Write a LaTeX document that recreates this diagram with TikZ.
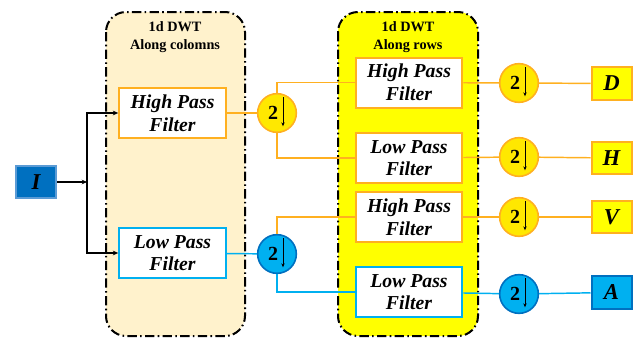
\documentclass[tikz,border=0pt]{standalone}
\usepackage{fontspec}
\setmainfont{Liberation Serif}
\usetikzlibrary{arrows.meta,positioning,calc}
\definecolor{beige}{HTML}{FFF2CC}
\definecolor{yel}{HTML}{FFFF00}
\definecolor{yelc}{HTML}{FFE800}
\definecolor{orng}{HTML}{FFB020}
\definecolor{skyb}{HTML}{00B0F0}
\definecolor{deepb}{HTML}{0070C0}
\definecolor{lightb}{HTML}{5B9BD5}

\begin{document}
\begin{tikzpicture}[x=0.75pt, y=-0.75pt,
  panel/.style={draw=black, line width=1.5pt, rounded corners=15pt, dash pattern=on 7pt off 2.5pt on 1.2pt off 2.5pt},
  ttl/.style={font=\fontsize{10.7}{13.5}\selectfont\bfseries, align=center},
  filt/.style={draw=orng, fill=white, line width=1.5pt, minimum width=80pt, minimum height=37.5pt, align=center, inner sep=1pt, font=\fontsize{14.8}{17}\selectfont\bfseries\itshape},
  lfilt/.style={filt, draw=skyb},
  dsy/.style={circle, draw=orng, fill=yelc, line width=1.2pt, minimum size=29pt, inner sep=0pt},
  dsb/.style={circle, draw=deepb, fill=skyb, line width=1.2pt, minimum size=29pt, inner sep=0pt},
  outy/.style={draw=orng, fill=yel, line width=1.5pt, minimum width=30pt, minimum height=24.5pt, inner sep=0pt, font=\fontsize{17}{17}\selectfont\bfseries\itshape},
  outb/.style={outy, draw=deepb, fill=skyb},
  ow/.style={orng, line width=1.1pt},
  bw/.style={skyb, line width=1.1pt},
  arr/.style={-{Stealth[length=4pt, width=3.5pt]}, black, line width=1pt}]
  \useasboundingbox (0,0) rectangle (636,339);
  % containers
  \draw[panel, fill=beige] (106,12) rectangle (245,336);
  \draw[panel, fill=yel] (338,12) rectangle (478,336);
  \node[ttl] (coltitle) at (175,37) {1d DWT\\Along colomns};
  \node[ttl] (rowtitle) at (408,37) {1d DWT\\Along rows};
  % input
  \node[draw=lightb, fill=deepb, line width=1.5pt, minimum width=30pt, minimum height=24.5pt, inner sep=0pt, font=\fontsize{17}{17}\selectfont\bfseries\itshape] (img) at (36,182) {I};
  \coordinate (split) at (87,182);
  % column filters
  \node[filt] (hpc) at (172.5,113) {High Pass\\Filter};
  \node[lfilt] (lpc) at (172.5,253) {Low Pass\\Filter};
  \node[dsy] (dc1) at (277,113) {};
  \node[dsb] (dc2) at (277,254) {};
  % row filters
  \node[filt] (hpr1) at (409,82.5) {High Pass\\Filter};
  \node[filt] (lpr1) at (409,158) {Low Pass\\Filter};
  \node[filt] (hpr2) at (409,217) {High Pass\\Filter};
  \node[lfilt] (lpr2) at (409,292) {Low Pass\\Filter};
  \node[dsy] (dr1) at (519,83) {};
  \node[dsy] (dr2) at (519,157) {};
  \node[dsy] (dr3) at (519,217) {};
  \node[dsb] (dr4) at (519,294) {};
  % outputs
  \node[outy] (outd) at (611.5,83.5) {D};
  \node[outy] (outh) at (611.5,158) {H};
  \node[outy] (outv) at (611.5,217) {V};
  \node[outb] (outa) at (611.5,292.5) {A};
  % downsampling labels
  \foreach \c in {dc1,dc2,dr1,dr2,dr3,dr4}{
    \node[font=\fontsize{15}{15}\selectfont\bfseries] at ([xshift=-3pt]\c.center) {2};
    \draw[-{Stealth[length=3pt, width=2.5pt]}, black, line width=0.5pt] ([xshift=4.5pt, yshift=12pt]\c.center) -- ([xshift=4.5pt, yshift=-10pt]\c.center);
  }
  % connectors
  \draw[arr] (img) -- (split);
  \draw[arr] (split) |- (hpc.west);
  \draw[arr] (split) |- (lpc.west);
  \draw[ow] (hpc) -- (dc1);
  \draw[bw] (lpc) -- (dc2);
  \draw[ow] (dc1.north) |- (hpr1.west);
  \draw[ow] (dc1.south) |- (lpr1.west);
  \draw[ow] (dc2.north) |- (hpr2.west);
  \draw[bw] (dc2.south) |- (lpr2.west);
  \draw[ow] (hpr1) -- (dr1); \draw[ow] (dr1) -- (outd);
  \draw[ow] (lpr1) -- (dr2); \draw[ow] (dr2) -- (outh);
  \draw[ow] (hpr2) -- (dr3); \draw[ow] (dr3) -- (outv);
  \draw[bw] (lpr2) -- (dr4); \draw[bw] (dr4) -- (outa);
\end{tikzpicture}
\end{document}
